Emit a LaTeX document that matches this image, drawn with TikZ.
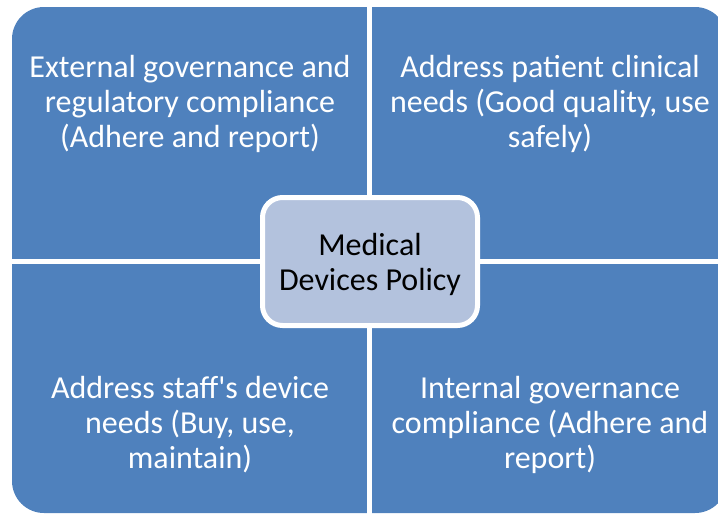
\documentclass[tikz,border=0pt]{standalone}
\usepackage{fontspec}
\setmainfont{Carlito}
\definecolor{quadblue}{HTML}{4F81BD}
\definecolor{hubfill}{HTML}{B3C2DD}

\tikzset{every picture/.style={line width=0.75pt}}
\tikzset{
  quadtext/.style={align=center, text=white, inner sep=0.75pt, font=\fontsize{24}{26.25}\selectfont},
  hubbox/.style={draw=white, fill=hubfill, line width=3.75, rounded corners=15pt,
    inner sep=0pt, minimum width=161.25pt, minimum height=96pt},
  hubtext/.style={align=center, inner sep=0.75pt, yshift=-2.25pt, font=\fontsize{24}{26.25}\selectfont}
}

\begin{document}
\begin{tikzpicture}[x=0.75pt,y=0.75pt,yscale=-1,xscale=1]
\path [use as bounding box] (0,0) rectangle (718,515); %set diagram 718 x 515
\clip (0,0) rectangle (718,515);

%Rounded Rect [id:quads]
\draw [draw=none, fill=quadblue, rounded corners=24pt] (12,7) rectangle (727,513) ;
%Straight Lines [id:gapv]
\draw [white, line width=3.75]  (369.5,0) -- (369.5,515) ;
%Straight Lines [id:gaph]
\draw [white, line width=3.75]  (0,261.5) -- (718,261.5) ;

% Text Node
\draw (190,103.5) node [quadtext] (extgov) {External governance and\\regulatory compliance\\(Adhere and report)};
% Text Node
\draw (550,103.5) node [quadtext] (patient) {Address patient clinical\\needs (Good quality, use\\safely)};
% Text Node
\draw (190,425) node [quadtext] (staff) {Address staff\textquotesingle s device\\needs (Buy, use,\\maintain)};
% Text Node
\draw (550,425) node [quadtext] (intgov) {Internal governance\\compliance (Adhere and\\report)};
% Hub Node
\draw (370,261.5) node [hubbox] (hub) {};
\draw (hub.center) node [hubtext] (hublabel) {Medical\\Devices Policy};

\end{tikzpicture}
\end{document}
